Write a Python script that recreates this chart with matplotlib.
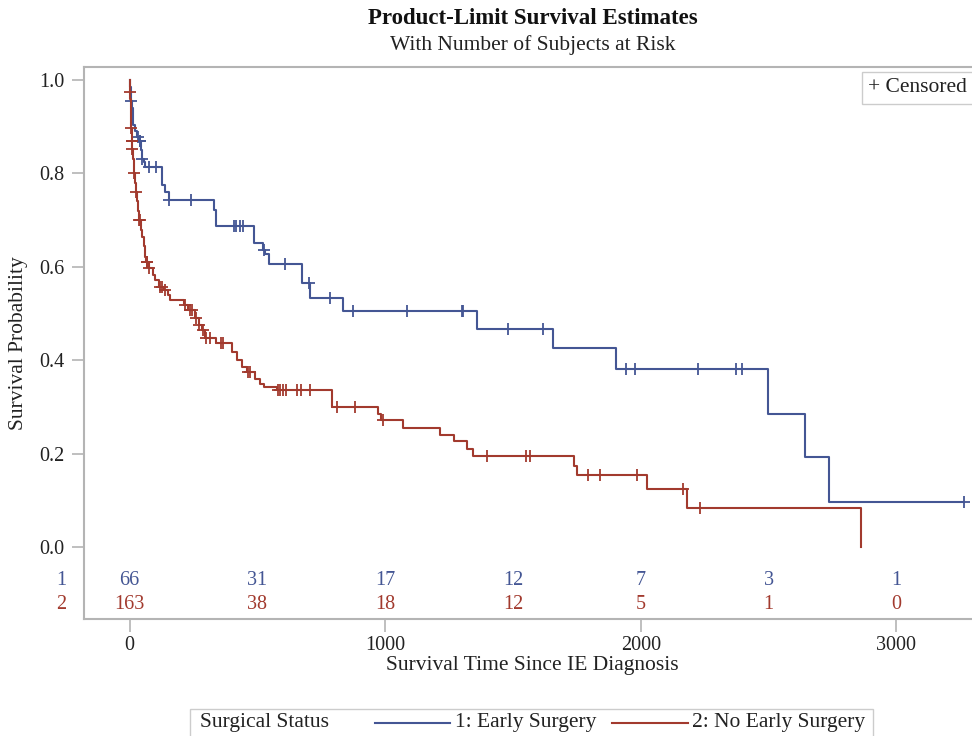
import matplotlib
matplotlib.use("Agg")
import matplotlib.pyplot as plt
import matplotlib.transforms as mtransforms
from matplotlib.patches import Rectangle
from matplotlib.lines import Line2D
import numpy as np

plt.rcParams["font.family"] = ["Liberation Serif", "DejaVu Serif"]

BLUE = "#445694"
RED = "#A23A2E"
FRAME = "#B4B4B4"
TXT = "#222222"

# group 1: early surgery (KM steps)
early_time = [0, 2, 5, 8, 12, 20, 28, 36, 45, 48, 55, 62, 128, 140, 154, 330, 340,
              487, 524, 530, 545, 676, 705, 836, 1360, 1657, 1902, 2498, 2642, 2737, 3266]
early_surv = [1.0, 0.985, 0.955, 0.94, 0.904, 0.89, 0.879, 0.869, 0.85, 0.832, 0.825,
              0.814, 0.775, 0.761, 0.743, 0.722, 0.687, 0.652, 0.636, 0.628, 0.607,
              0.565, 0.534, 0.505, 0.467, 0.426, 0.381, 0.285, 0.193, 0.096, 0.096]
early_cens = [6, 33, 40, 43, 50, 78, 102, 156, 241, 408, 418, 434, 445, 526, 607, 702,
              784, 874, 1087, 1302, 1306, 1482, 1619, 1941, 1977, 2222, 2372, 2398, 3266]

# group 2: no early surgery
late_time = [0, 1, 2, 4, 6, 8, 10, 14, 18, 22, 26, 30, 34, 38, 45, 50, 55, 60, 66, 75,
             90, 100, 115, 135, 150, 160, 213, 230, 255, 270, 285, 295, 340, 402, 420,
             440, 460, 490, 510, 525, 578, 791, 973, 985, 1071, 1215, 1270, 1319, 1345,
             1737, 1752, 2026, 2182, 2861]
late_surv = [1.0, 0.975, 0.96, 0.93, 0.897, 0.869, 0.852, 0.83, 0.80, 0.78, 0.76, 0.74,
             0.72, 0.70, 0.68, 0.664, 0.645, 0.622, 0.611, 0.597, 0.583, 0.572, 0.557,
             0.550, 0.54, 0.529, 0.518, 0.507, 0.49, 0.475, 0.465, 0.447, 0.436, 0.418,
             0.40, 0.385, 0.375, 0.36, 0.35, 0.343, 0.336, 0.30, 0.285, 0.272, 0.254,
             0.240, 0.228, 0.209, 0.196, 0.173, 0.154, 0.124, 0.083, 0.0]
late_cens = [1.5, 6.5, 8.5, 9, 11, 19, 27, 39, 41, 67, 70, 76, 120, 128, 140, 218, 238,
             245, 262, 272, 288, 301, 313, 356, 367, 465, 470, 582, 590, 600, 611, 656,
             669, 705, 810, 881, 993, 1400, 1553, 1566, 1795, 1840, 1984, 2166, 2232]

# number at risk table
risk_times = [0, 500, 1000, 1500, 2000, 2500, 3000]
risk_early = [66, 31, 17, 12, 7, 3, 1]
risk_late = [163, 38, 18, 12, 5, 1, 0]


def step_value(times, surv, t):
    i = np.searchsorted(times, t, side="right") - 1
    return np.array(surv)[i]


def draw_group(ax, times, surv, cens, color):
    ax.step(times, surv, where="post", color=color, lw=1.5)
    ax.plot(cens, step_value(times, surv, cens), ls="none", marker="+",
            ms=9, mew=1.3, color=color)


fig = plt.figure(figsize=(9.72, 7.36), dpi=100)
ax = fig.add_axes([84 / 972, 1 - 619 / 736, 897 / 972, 552 / 736])

draw_group(ax, early_time, early_surv, early_cens, BLUE)
draw_group(ax, late_time, late_surv, late_cens, RED)

ax.set_xlim(-178, 3331)
ax.set_ylim(-0.154, 1.028)
ax.set_xticks([0, 1000, 2000, 3000])
ax.set_yticks([0.0, 0.2, 0.4, 0.6, 0.8, 1.0])
ax.set_yticklabels(["0.0", "0.2", "0.4", "0.6", "0.8", "1.0"])
ax.tick_params(axis="both", labelsize=14.5, color=FRAME, length=9, width=1.2,
               labelcolor=TXT)
ax.tick_params(axis="y", pad=5)
ax.tick_params(axis="x", pad=3)
for sp in ax.spines.values():
    sp.set_color(FRAME)
    sp.set_linewidth(1.5)

ax.set_xlabel("Survival Time Since IE Diagnosis", fontsize=15.5, color=TXT,
              labelpad=1)
ax.set_ylabel("Survival Probability", fontsize=15.5, color=TXT, labelpad=8)

# at-risk rows inside the plot area
for t, n1, n2 in zip(risk_times, risk_early, risk_late):
    ax.text(t, -0.0707, str(n1), color=BLUE, fontsize=14.5, ha="center", va="center")
    ax.text(t, -0.122, str(n2), color=RED, fontsize=14.5, ha="center", va="center")
trans = mtransforms.blended_transform_factory(ax.transAxes, ax.transData)
ax.text(-0.025, -0.0707, "1", color=BLUE, fontsize=14.5, ha="center", va="center",
        transform=trans, clip_on=False)
ax.text(-0.025, -0.122, "2", color=RED, fontsize=14.5, ha="center", va="center",
        transform=trans, clip_on=False)

# titles
fig.text(533 / 972, 1 - 18 / 736, "Product-Limit Survival Estimates", fontsize=16.5,
         fontweight="bold", ha="center", va="center", color="#111111")
fig.text(533 / 972, 1 - 45 / 736, "With Number of Subjects at Risk", fontsize=15.5,
         ha="center", va="center", color=TXT)

# censored key
fig.text(967 / 972, 1 - 88 / 736, "+ Censored", fontsize=15.5, ha="right",
         va="center", color=TXT,
         bbox=dict(boxstyle="square,pad=0.3", fc="white", ec="#CCCCCC", lw=1))

# bottom legend, drawn by hand (title sits to the left of the entries)
fig.add_artist(Rectangle((190 / 972, -0.02), 683 / 972, 1 - 709 / 736 + 0.02,
                         transform=fig.transFigure, fc="white", ec="#CCCCCC", lw=1))
ly = 1 - 723 / 736
fig.text(200 / 972, ly, "Surgical Status", fontsize=15.5, va="center", color=TXT)
fig.add_artist(Line2D([375 / 972, 450 / 972], [ly, ly], color=BLUE, lw=1.5,
                      transform=fig.transFigure))
fig.text(455 / 972, ly, "1: Early Surgery", fontsize=15.5, va="center", color=TXT)
fig.add_artist(Line2D([612 / 972, 688 / 972], [ly, ly], color=RED, lw=1.5,
                      transform=fig.transFigure))
fig.text(692 / 972, ly, "2: No Early Surgery", fontsize=15.5, va="center",
         color=TXT)

fig.savefig("out.png", dpi=100)
